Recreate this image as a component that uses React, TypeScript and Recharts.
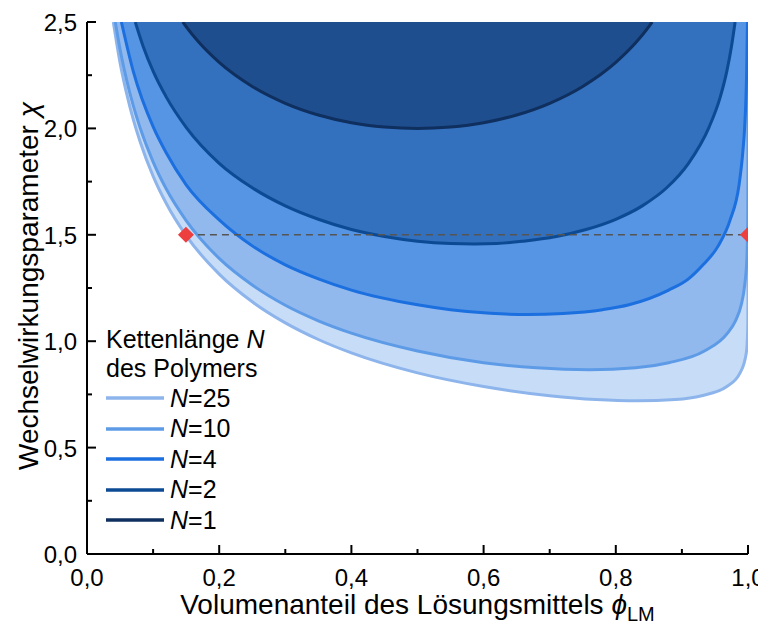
import React from 'react';
import { ComposedChart, Area, XAxis, YAxis, ReferenceLine, ReferenceDot, Legend } from 'recharts';

const FONT = '"Liberation Sans", Arial, Helvetica, sans-serif';

// Binodal curves: solvent volume fraction (phi) vs chi
const phiN1 = [0.145, 0.15, 0.17, 0.2, 0.25, 0.3, 0.35, 0.4, 0.45, 0.5, 0.55, 0.6, 0.65, 0.7, 0.75, 0.8, 0.83, 0.85, 0.855];
const chiN1 = [2.5, 2.478, 2.402, 2.31, 2.197, 2.118, 2.063, 2.027, 2.007, 2.0, 2.007, 2.027, 2.063, 2.118, 2.197, 2.31, 2.402, 2.478, 2.5];

const phiN2 = [0.073, 0.085, 0.1, 0.12, 0.15, 0.2, 0.25, 0.3, 0.35, 0.4, 0.45, 0.5, 0.55, 0.586, 0.62, 0.66, 0.71, 0.755, 0.8, 0.84, 0.877, 0.91, 0.941, 0.958, 0.968, 0.975, 0.9805];
const chiN2 = [2.5, 2.385, 2.269, 2.147, 2.005, 1.836, 1.721, 1.636, 1.573, 1.525, 1.492, 1.47, 1.459, 1.457, 1.459, 1.47, 1.492, 1.525, 1.573, 1.636, 1.721, 1.836, 2.005, 2.147, 2.269, 2.385, 2.5];

const phiN4 = [0.052, 0.07, 0.1, 0.12, 0.15, 0.2, 0.25, 0.3, 0.35, 0.4, 0.5, 0.55, 0.61, 0.667, 0.72, 0.78, 0.82, 0.88, 0.91, 0.932, 0.955, 0.973, 0.9865, 0.992, 0.995, 0.998, 0.9992];
const chiN4 = [2.5, 2.268, 2.008, 1.884, 1.735, 1.57, 1.448, 1.359, 1.293, 1.24, 1.171, 1.148, 1.131, 1.125, 1.13, 1.148, 1.171, 1.24, 1.293, 1.359, 1.448, 1.57, 1.735, 1.884, 2.008, 2.268, 2.5];

const phiN10 = [0.0428, 0.05, 0.06, 0.07, 0.08, 0.1, 0.12, 0.15, 0.2, 0.25, 0.3, 0.35, 0.4, 0.5, 0.6, 0.68, 0.76, 0.83, 0.88, 0.934, 0.969, 0.981, 0.9896, 0.995, 0.9983, 0.9996, 0.99997, 1.0];
const chiN10 = [2.5, 2.372, 2.227, 2.107, 2.006, 1.843, 1.715, 1.567, 1.389, 1.264, 1.169, 1.096, 1.038, 0.954, 0.899, 0.875, 0.866, 0.875, 0.899, 0.954, 1.038, 1.096, 1.169, 1.264, 1.389, 1.567, 1.843, 2.5];

const phiN25 = [0.0398, 0.05, 0.06, 0.07, 0.08, 0.1, 0.12, 0.15, 0.2, 0.25, 0.3, 0.35, 0.4, 0.5, 0.6, 0.7, 0.77, 0.8333, 0.89, 0.93, 0.968, 0.988, 0.9974, 0.999, 0.99974, 0.99996, 1.0];
const chiN25 = [2.5, 2.309, 2.163, 2.042, 1.941, 1.776, 1.647, 1.496, 1.315, 1.185, 1.086, 1.008, 0.945, 0.851, 0.787, 0.744, 0.726, 0.72, 0.726, 0.744, 0.787, 0.851, 0.945, 1.008, 1.086, 1.185, 2.5];

const seriesKeys = ['n25', 'n10', 'n4', 'n2', 'n1'];
const chainLengths = ['25', '10', '4', '2', '1'];
const seriesPhi = [phiN25, phiN10, phiN4, phiN2, phiN1];
const seriesChi = [chiN25, chiN10, chiN4, chiN2, chiN1];
const fillColors = ['#C7DCF7', '#91B9EE', '#5694E4', '#3370BE', '#1F4E8F'];
const lineColors = ['#8DB5EC', '#5E9BE7', '#1B6FDF', '#0C4A94', '#0F2F5F'];

const xTicks = [0, 0.1, 0.2, 0.3, 0.4, 0.5, 0.6, 0.7, 0.8, 0.9, 1.0];
const yTicks = [0, 0.25, 0.5, 0.75, 1.0, 1.25, 1.5, 1.75, 2.0, 2.25, 2.5];

const tieChi = 1.5;
const tiePhiLeft = 0.1497;
const tiePhiRight = 1.0;

const data = seriesPhi
  .flatMap((phis, i) => phis.map((p, j) => ({ x: p, [seriesKeys[i]]: seriesChi[i][j] })))
  .sort((a, b) => a.x - b.x);

const fmt = (v: number) => v.toFixed(1).replace('.', ',');
const isMajorX = (v: number) => Math.round(v * 10) % 2 === 0;
const isMajorY = (v: number) => Math.round(v * 4) % 2 === 0;

const MAJ = 9;
const MIN = 5;
const TICK_FS = 24;

const BottomTick = (props: any) => {
  const { x, y, payload } = props;
  const major = isMajorX(payload.value);
  return (
    <g>
      <line x1={x} x2={x} y1={y} y2={y - (major ? MAJ : MIN)} stroke="#000" strokeWidth={2} />
      {major && (
        <text x={x} y={y + 32} textAnchor="middle" fontSize={TICK_FS} fontFamily={FONT} fill="#000">
          {fmt(payload.value)}
        </text>
      )}
    </g>
  );
};

const TopTick = (props: any) => {
  const { x, y, payload } = props;
  const major = isMajorX(payload.value);
  return <line x1={x} x2={x} y1={y} y2={y + (major ? MAJ : MIN)} stroke="#000" strokeWidth={2} />;
};

const LeftTick = (props: any) => {
  const { x, y, payload } = props;
  const major = isMajorY(payload.value);
  return (
    <g>
      <line x1={x} x2={x + (major ? MAJ : MIN)} y1={y} y2={y} stroke="#000" strokeWidth={2} />
      {major && (
        <text x={x - 10} y={y + 9} textAnchor="end" fontSize={TICK_FS} fontFamily={FONT} fill="#000">
          {fmt(payload.value)}
        </text>
      )}
    </g>
  );
};

const RightTick = (props: any) => {
  const { x, y, payload } = props;
  const major = isMajorY(payload.value);
  return <line x1={x} x2={x - (major ? MAJ : MIN)} y1={y} y2={y} stroke="#000" strokeWidth={2} />;
};

const XTitle = (props: any) => {
  const vb = props.viewBox || {};
  const cx = vb.x + vb.width / 2;
  const y = vb.y + 60;
  return (
    <text x={cx} y={y} textAnchor="middle" fontSize={28} fontFamily={FONT} fill="#000">
      Volumenanteil des Lösungsmittels <tspan fontStyle="italic">ϕ</tspan>
      <tspan fontSize={20} dy={7}>LM</tspan>
    </text>
  );
};

const YTitle = (props: any) => {
  const vb = props.viewBox || {};
  const cx = 20;
  const cy = vb.y + vb.height / 2 - 2;
  return (
    <text
      x={cx}
      y={cy}
      transform={`rotate(-90, ${cx}, ${cy})`}
      textAnchor="middle"
      dominantBaseline="central"
      fontSize={28}
      fontFamily={FONT}
      fill="#000"
    >
      Wechselwirkungsparameter <tspan fontStyle="italic">χ</tspan>
    </text>
  );
};

const LegendContent = () => (
  <div style={{ fontFamily: FONT, fontSize: 25, color: '#000' }}>
    <div style={{ height: 29, lineHeight: '29px', whiteSpace: 'nowrap' }}>
      Kettenlänge <i>N</i>
    </div>
    <div style={{ height: 29, lineHeight: '29px', whiteSpace: 'nowrap' }}>des Polymers</div>
    {chainLengths.map((n, i) => (
      <div key={n} style={{ display: 'flex', alignItems: 'center', height: 30.5, whiteSpace: 'nowrap' }}>
        <svg width={58} height={6} style={{ display: 'block' }}>
          <line x1={0} x2={58} y1={3} y2={3} stroke={lineColors[i]} strokeWidth={3.5} />
        </svg>
        <span style={{ marginLeft: 6 }}>
          <i>N</i>={n}
        </span>
      </div>
    ))}
  </div>
);

const Diamond = (props: any) => {
  const { cx, cy } = props;
  const r = 8;
  return <polygon points={`${cx},${cy - r} ${cx + r},${cy} ${cx},${cy + r} ${cx - r},${cy}`} fill="#EE3F3F" />;
};

const HalfDiamond = (props: any) => {
  const { cx, cy } = props;
  const r = 8;
  return <polygon points={`${cx},${cy - r} ${cx},${cy + r} ${cx - r},${cy}`} fill="#EE3F3F" />;
};

export default function App() {
  return (
    <ComposedChart
      width={758}
      height={626}
      data={data}
      margin={{ top: 14, right: 18, bottom: 20, left: 0 }}
      style={{ fontFamily: FONT }}
    >
      {seriesKeys.map((k, i) => (
        <Area
          key={k}
          type="monotone"
          dataKey={k}
          baseValue={2.5}
          connectNulls
          fill={fillColors[i]}
          fillOpacity={1}
          stroke={lineColors[i]}
          strokeWidth={3}
          dot={false}
          activeDot={false}
          isAnimationActive={false}
          legendType="none"
        />
      ))}
      <ReferenceLine
        segment={[
          { x: tiePhiLeft, y: tieChi },
          { x: tiePhiRight, y: tieChi },
        ]}
        stroke="#555"
        strokeWidth={1.5}
        strokeDasharray="7 5"
      />
      <ReferenceDot x={tiePhiLeft} y={tieChi} shape={Diamond} />
      <ReferenceDot x={tiePhiRight} y={tieChi} shape={HalfDiamond} />
      <XAxis
        dataKey="x"
        type="number"
        domain={[0, 1]}
        allowDataOverflow
        ticks={xTicks}
        interval={0}
        tickLine={false}
        tickSize={0}
        tickMargin={0}
        tick={<BottomTick />}
        axisLine={{ stroke: '#000', strokeWidth: 2 }}
        height={60}
        label={<XTitle />}
      />
      <XAxis
        xAxisId="top"
        orientation="top"
        dataKey="x"
        type="number"
        domain={[0, 1]}
        allowDataOverflow
        ticks={xTicks}
        interval={0}
        tickLine={false}
        tickSize={0}
        tickMargin={0}
        tick={<TopTick />}
        axisLine={{ stroke: '#000', strokeWidth: 2 }}
        height={0}
      />
      <YAxis
        type="number"
        domain={[0, 2.5]}
        allowDataOverflow
        ticks={yTicks}
        interval={0}
        tickLine={false}
        tickSize={0}
        tickMargin={0}
        tick={<LeftTick />}
        axisLine={{ stroke: '#000', strokeWidth: 2 }}
        width={79}
        label={<YTitle />}
      />
      <YAxis
        yAxisId="right"
        orientation="right"
        type="number"
        domain={[0, 2.5]}
        allowDataOverflow
        ticks={yTicks}
        interval={0}
        tickLine={false}
        tickSize={0}
        tickMargin={0}
        tick={<RightTick />}
        axisLine={{ stroke: '#000', strokeWidth: 2 }}
        width={0}
      />
      <Legend
        layout="vertical"
        align="center"
        verticalAlign="middle"
        content={<LegendContent />}
        wrapperStyle={{ left: 98, top: 317, width: 240 }}
      />
    </ComposedChart>
  );
}
